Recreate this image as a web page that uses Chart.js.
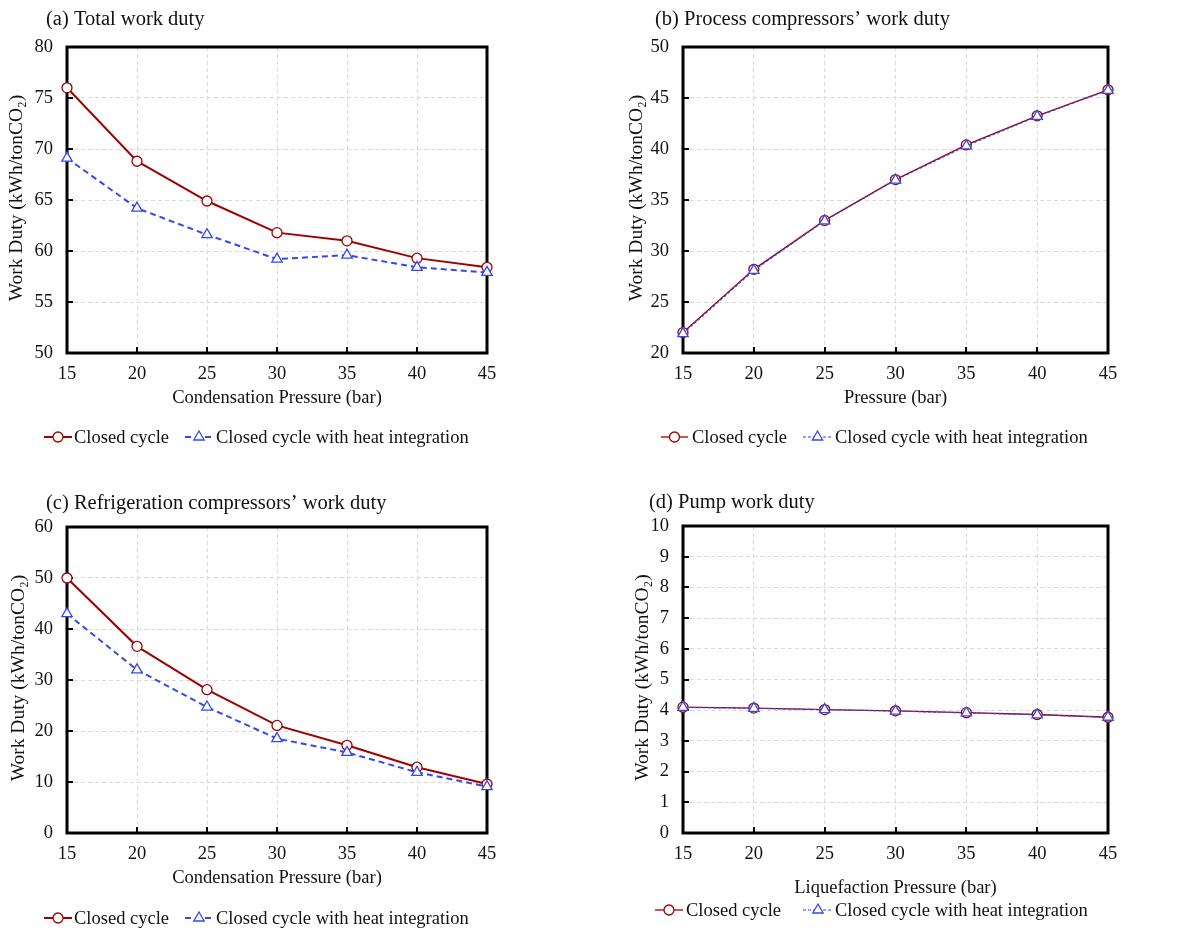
<!DOCTYPE html>
<html>
<head>
<meta charset="utf-8">
<script src="https://cdn.jsdelivr.net/npm/chart.js@4"></script>
<style>
  html, body { margin: 0; padding: 0; background: #fff; }
  .panel { position: absolute; width: 597px; height: 465px; }
  .panel canvas { display: block; }
</style>
</head>
<body>
<div class="panel" style="left:0;top:0"><canvas id="chart-a" width="597" height="465"></canvas></div>
<div class="panel" style="left:598px;top:0"><canvas id="chart-b" width="597" height="465"></canvas></div>
<div class="panel" style="left:0;top:466px"><canvas id="chart-c" width="597" height="465"></canvas></div>
<div class="panel" style="left:598px;top:466px"><canvas id="chart-d" width="597" height="465"></canvas></div>
<script>
// pressures (bar)
const pressures = [15, 20, 25, 30, 35, 40, 45];

// (a) total work duty
const totalClosed = [76.0, 68.8, 64.9, 61.8, 61.0, 59.3, 58.4];
const totalHeat   = [69.1, 64.2, 61.6, 59.2, 59.6, 58.4, 57.9];

// (b) process compressors
const procClosed = [22.0, 28.2, 33.0, 37.0, 40.4, 43.25, 45.8];
const procHeat   = [21.9, 28.1, 32.95, 36.95, 40.3, 43.2, 45.75];

// (c) refrigeration compressors
const refrClosed = [50.0, 36.6, 28.1, 21.1, 17.2, 12.9, 9.6];
const refrHeat   = [43.0, 32.0, 24.7, 18.5, 15.8, 11.9, 9.1];

// (d) pump
const pumpClosed = [4.10, 4.07, 4.02, 3.98, 3.92, 3.86, 3.77];
const pumpHeat   = [4.09, 4.06, 4.02, 3.97, 3.91, 3.85, 3.77];

const seriesNames = ['Closed cycle', 'Closed cycle with heat integration'];
const yTitle = 'Work Duty (kWh/tonCO\u2082)';

const RED = '#a00000';
const BLUE = '#3348f0';
const FONT = '"Liberation Serif", "Times New Roman", serif';

const toPoints = ys => pressures.map((x, i) => ({ x, y: ys[i] }));

// frame, inward ticks and all the text that is not a tick label
const decorPlugin = {
    id: 'decor',
    beforeDatasetsDraw(chart) {
        const { ctx, chartArea: a, scales } = chart;
        ctx.save();
        ctx.strokeStyle = '#000';
        ctx.lineWidth = 2;
        ctx.beginPath();
        scales.y.ticks.forEach(t => {
            const py = Math.round(scales.y.getPixelForValue(t.value));
            ctx.moveTo(a.left, py);
            ctx.lineTo(a.left + 6, py);
        });
        scales.x.ticks.forEach(t => {
            const px = Math.round(scales.x.getPixelForValue(t.value));
            ctx.moveTo(px, a.bottom);
            ctx.lineTo(px, a.bottom - 6);
        });
        ctx.stroke();
        ctx.lineWidth = 3;
        ctx.strokeRect(a.left, a.top, a.right - a.left, a.bottom - a.top);
        ctx.restore();
    },
    afterDraw(chart, args, o) {
        const { ctx, chartArea: a } = chart;
        ctx.save();
        ctx.fillStyle = '#111';
        ctx.textBaseline = 'middle';

        ctx.font = '20.5px ' + FONT;
        ctx.textAlign = 'left';
        ctx.fillText(o.title, o.titleX, o.titleY);

        ctx.font = '18.5px ' + FONT;
        ctx.textAlign = 'center';
        ctx.fillText(o.xTitle, (a.left + a.right) / 2, o.xTitleY);

        ctx.save();
        ctx.font = '19.5px ' + FONT;
        ctx.translate(o.yTitleX, (a.top + a.bottom) / 2 - 2);
        ctx.rotate(-Math.PI / 2);
        ctx.fillText(yTitle, 0, 0);
        ctx.restore();

        // legend: line sample, marker, label
        const ly = o.legendY;
        o.legend.forEach((it, i) => {
            const ds = chart.data.datasets[i];
            const mx = (it[0] + it[1]) / 2;
            ctx.save();
            ctx.strokeStyle = ds.borderColor;
            ctx.lineWidth = ds.borderWidth;
            ctx.setLineDash(ds.borderDash || []);
            ctx.beginPath();
            ctx.moveTo(it[0], ly);
            ctx.lineTo(it[1], ly);
            ctx.stroke();
            ctx.setLineDash([]);
            ctx.fillStyle = '#fff';
            ctx.strokeStyle = ds.borderColor;
            ctx.lineWidth = ds.pointBorderWidth;
            Chart.helpers.drawPoint(ctx, {
                pointStyle: ds.pointStyle,
                radius: ds.pointRadius,
                borderWidth: ds.pointBorderWidth,
                rotation: 0
            }, mx, ly);
            ctx.restore();
            ctx.save();
            ctx.font = '18.5px ' + FONT;
            ctx.fillStyle = '#111';
            ctx.textAlign = 'left';
            ctx.textBaseline = 'middle';
            ctx.fillText(seriesNames[i], it[2], ly + 1);
            ctx.restore();
        });
        ctx.restore();
    }
};

function makeChart(id, opts) {
    const W = 597, H = 465;
    const thin = opts.thin;
    const closed = {
        label: seriesNames[0],
        data: toPoints(opts.closed),
        borderColor: RED,
        backgroundColor: '#fff',
        borderWidth: thin ? 1.3 : 2,
        pointStyle: 'circle',
        pointRadius: 5,
        pointBorderWidth: 1.3,
        pointBackgroundColor: '#fff',
        pointBorderColor: RED,
        tension: 0,
        clip: false,
        order: 1
    };
    const heat = {
        label: seriesNames[1],
        data: toPoints(opts.heat),
        borderColor: BLUE,
        backgroundColor: '#fff',
        borderWidth: thin ? 1.1 : 2,
        borderDash: thin ? [3, 2] : [6, 4],
        pointStyle: 'triangle',
        pointRadius: 6,
        pointBorderWidth: 1.3,
        pointBackgroundColor: '#fff',
        pointBorderColor: BLUE,
        tension: 0,
        clip: false,
        order: 0
    };

    return new Chart(document.getElementById(id), {
        type: 'line',
        data: { datasets: [closed, heat] },
        plugins: [decorPlugin],
        options: {
            responsive: false,
            animation: false,
            events: [],
            layout: {
                padding: { left: 0, top: opts.area.t, right: W - opts.area.r, bottom: 0 }
            },
            plugins: {
                legend: { display: false },
                title: { display: false },
                tooltip: { enabled: false },
                decor: opts.decor
            },
            scales: {
                x: {
                    type: 'linear',
                    min: 15, max: 45,
                    afterFit: s => { s.height = H - opts.area.b; },
                    ticks: { stepSize: 5, color: '#111', padding: 10, font: { family: FONT, size: 18.5 } },
                    grid: { color: '#d9d9d9', lineWidth: 1, drawTicks: false },
                    border: { display: false, dash: [4, 3] }
                },
                y: {
                    min: opts.yMin, max: opts.yMax,
                    afterFit: s => { s.width = opts.area.l; },
                    ticks: { stepSize: opts.yStep, color: '#111', padding: 14, font: { family: FONT, size: 18.5 } },
                    grid: { color: '#d9d9d9', lineWidth: 1, drawTicks: false },
                    border: { display: false, dash: [4, 3] }
                }
            }
        }
    });
}

makeChart('chart-a', {
    closed: totalClosed, heat: totalHeat,
    yMin: 50, yMax: 80, yStep: 5,
    area: { l: 67, t: 47, r: 487, b: 353 },
    decor: {
        title: '(a) Total work duty', titleX: 46, titleY: 20,
        xTitle: 'Condensation Pressure (bar)', xTitleY: 398, yTitleX: 17,
        legendY: 437, legend: [[44, 72, 74], [185, 213, 216]]
    }
});

makeChart('chart-b', {
    closed: procClosed, heat: procHeat, thin: true,
    yMin: 20, yMax: 50, yStep: 5,
    area: { l: 85, t: 47, r: 510, b: 353 },
    decor: {
        title: '(b) Process compressors\u2019 work duty', titleX: 57, titleY: 20,
        xTitle: 'Pressure (bar)', xTitleY: 398, yTitleX: 39,
        legendY: 437, legend: [[63, 90, 94], [205, 234, 237]]
    }
});

makeChart('chart-c', {
    closed: refrClosed, heat: refrHeat,
    yMin: 0, yMax: 60, yStep: 10,
    area: { l: 67, t: 61, r: 487, b: 367 },
    decor: {
        title: '(c) Refrigeration compressors\u2019 work duty', titleX: 46, titleY: 38,
        xTitle: 'Condensation Pressure (bar)', xTitleY: 412, yTitleX: 19,
        legendY: 452, legend: [[44, 72, 74], [185, 213, 216]]
    }
});

makeChart('chart-d', {
    closed: pumpClosed, heat: pumpHeat, thin: true,
    yMin: 0, yMax: 10, yStep: 1,
    area: { l: 85, t: 60, r: 510, b: 367 },
    decor: {
        title: '(d) Pump work duty', titleX: 51, titleY: 37,
        xTitle: 'Liquefaction Pressure (bar)', xTitleY: 422, yTitleX: 45,
        legendY: 444, legend: [[57, 85, 88], [205, 235, 237]]
    }
});
</script>
</body>
</html>
